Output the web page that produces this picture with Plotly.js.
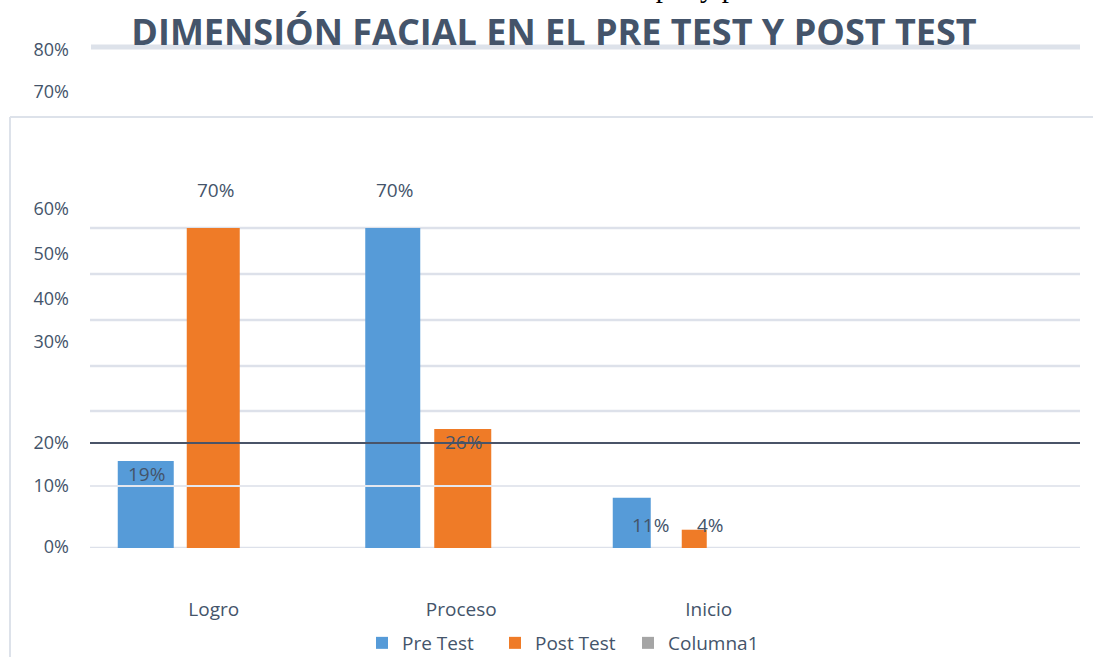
<!DOCTYPE html>
<html>
<head>
<meta charset="utf-8">
<script src="https://cdn.plot.ly/plotly-3.0.1.min.js"></script>
<style>html,body{margin:0;padding:0;background:#fff;}#chart{width:1093px;height:657px;}</style>
</head>
<body>
<div id="chart"></div>
<script>
// ---- data ----
const categories = ['Logro', 'Proceso', 'Inicio'];
const preTest  = [19, 70, 11];
const postTest = [70, 26, 4];
const columna1 = [null, null, null];
const preLabels  = ['19%', '70%', '11%'];
const postLabels = ['70%', '26%', '4%'];
const yTickText = ['0%', '10%', '20%', '30%', '40%', '50%', '60%', '70%', '80%'];
const seriesNames = ['Pre Test', 'Post Test', 'Columna1'];

// ---- layout helpers (positions/styles) ----
const W = 1093, H = 657;
const L = 90, R = 1080, T = 45, B = 548;
const yMax = 110;
const px2x = p => (p - L) / (R - L);
const px2y = p => (B - p) / (B - T);
const px2v = p => (B - p) / (B - T) * yMax;
const catW = (R - L) / 4;

// tick label positions (as drawn in the reference, pixel rows)
const yTickRows = [547, 486, 443, 342, 299, 254, 209, 92, 50];
const gridRows = [548, 411, 366, 320, 274, 228];

const blue = '#569bd8', orange = '#ef7b27', gray = '#a5a5a5';
const txt = '#44546a';
const font = 'Open Sans, Noto Sans, sans-serif';

const preWidthPx  = [56, 55, 38];
const postWidthPx = [53, 57, 25];

const traces = [
  {type: 'bar', name: seriesNames[0], x: categories, y: preTest,
   marker: {color: blue}, width: preWidthPx.map(w => w / catW), offset: -96 / catW},
  {type: 'bar', name: seriesNames[1], x: categories, y: postTest,
   marker: {color: orange}, width: postWidthPx.map(w => w / catW), offset: -27 / catW},
  {type: 'bar', name: seriesNames[2], x: categories, y: columna1,
   marker: {color: gray}, width: 56 / catW, offset: 40 / catW}
];

// data label annotations
const preShift  = {x: -67, y: [-13, 38, -27]};
const postShift = {x: 2,   y: [38, -13, 5]};
const annotations = [];
categories.forEach((c, i) => {
  annotations.push({x: c, y: preTest[i], xref: 'x', yref: 'y', text: preLabels[i],
    showarrow: false, xshift: preShift.x + (i === 2 ? 9 : 0), yshift: preShift.y[i],
    font: {family: font, size: 19, color: txt}});
  annotations.push({x: c, y: postTest[i], xref: 'x', yref: 'y', text: postLabels[i],
    showarrow: false, xshift: postShift.x, yshift: postShift.y[i],
    font: {family: font, size: 19, color: txt}});
});
// partially visible caption at the very top
annotations.push({xref: 'paper', yref: 'paper', x: px2x(15), y: 1, xanchor: 'left', yanchor: 'bottom',
  yshift: 40, showarrow: false,
  text: 'Gráfico N° 11: Resultados de la dimensión facial en el pre y post test.',
  font: {family: 'Liberation Serif, serif', size: 29, color: '#000'}});

const shapes = [];
gridRows.forEach(r => shapes.push({type: 'line', xref: 'paper', yref: 'y', x0: 0, x1: 1,
  y0: px2v(r), y1: px2v(r), line: {color: '#dde1ea', width: 2.5}, layer: 'below'}));
shapes.push({type: 'line', xref: 'paper', yref: 'y', x0: 0, x1: 1, y0: px2v(486), y1: px2v(486),
  line: {color: '#e4e7ee', width: 2}, layer: 'above'});
shapes.push({type: 'line', xref: 'paper', yref: 'y', x0: 0, x1: 1, y0: px2v(443), y1: px2v(443),
  line: {color: '#4a5468', width: 2}, layer: 'above'});
shapes.push({type: 'line', xref: 'paper', yref: 'paper', x0: px2x(91), x1: 1, y0: px2y(47), y1: px2y(47),
  line: {color: '#dde2ea', width: 5}, layer: 'below'});
shapes.push({type: 'line', xref: 'paper', yref: 'paper', x0: px2x(10), x1: px2x(1100), y0: px2y(117), y1: px2y(117),
  line: {color: '#dde2ea', width: 2}, layer: 'below'});
shapes.push({type: 'line', xref: 'paper', yref: 'paper', x0: px2x(10), x1: px2x(10), y0: px2y(117), y1: px2y(670),
  line: {color: '#dde2ea', width: 2}, layer: 'below'});

const layout = {
  width: W, height: H,
  margin: {l: L, r: W - R, t: T, b: H - B, pad: 0, autoexpand: false},
  paper_bgcolor: '#fff', plot_bgcolor: 'rgba(0,0,0,0)',
  barmode: 'group',
  title: {text: '<b>DIMENSIÓN FACIAL EN EL PRE TEST Y POST TEST</b>',
    font: {family: font, size: 36, color: txt},
    xref: 'container', yref: 'container', x: 554 / W, y: 1 - 32 / H, xanchor: 'center', yanchor: 'middle'},
  xaxis: {type: 'category', range: [-0.5, 3.5], showgrid: false, zeroline: false, showline: false,
    automargin: false, ticks: '', ticklabelstandoff: 48, tickfont: {family: font, size: 19, color: txt}},
  yaxis: {range: [0, yMax], showgrid: false, zeroline: false, showline: false, ticks: '', automargin: false,
    tickmode: 'array', tickvals: yTickRows.map(px2v), ticktext: yTickText,
    ticklabelstandoff: 20, tickfont: {family: font, size: 18, color: txt}},
  showlegend: true,
  legend: {orientation: 'h', xref: 'container', yref: 'container', x: 362 / W, y: 1 - 643 / H,
    xanchor: 'left', yanchor: 'middle',
    entrywidth: 88, entrywidthmode: 'pixels', font: {family: font, size: 19, color: txt},
    bgcolor: 'rgba(0,0,0,0)'},
  annotations: annotations,
  shapes: shapes
};

Plotly.newPlot('chart', traces, layout, {displayModeBar: false, staticPlot: true});
</script>
</body>
</html>
